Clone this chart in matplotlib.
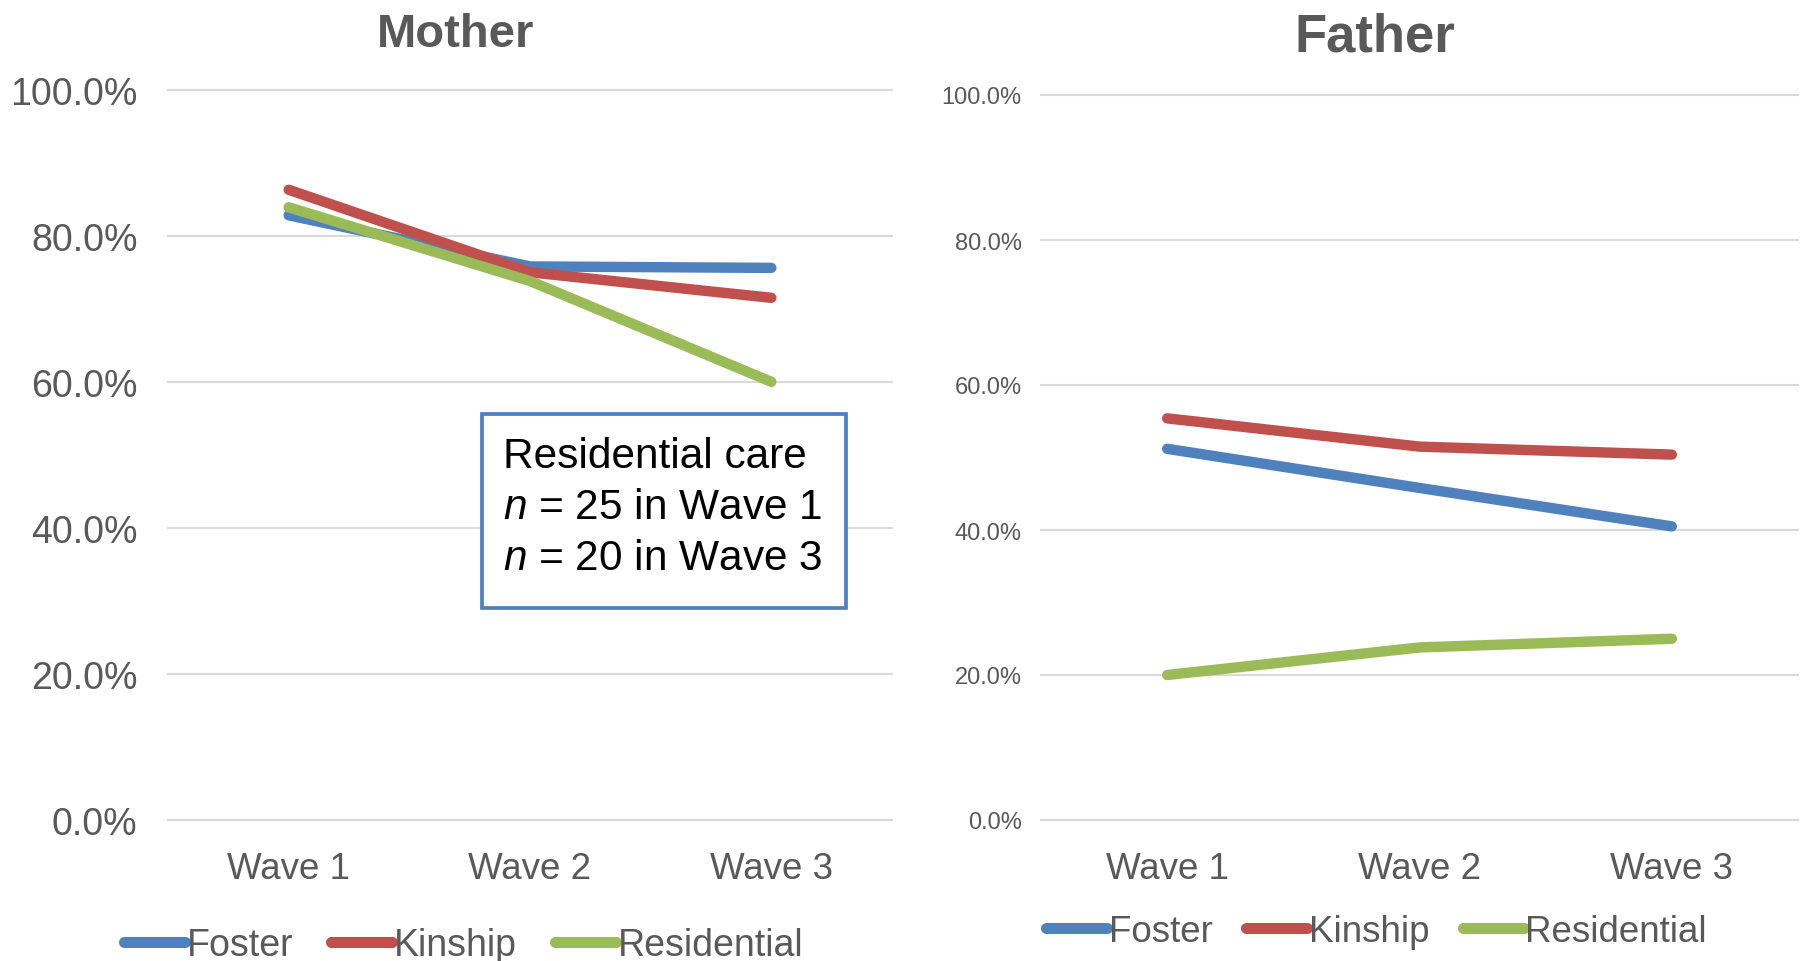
import matplotlib
matplotlib.use("Agg")
import matplotlib.pyplot as plt
from matplotlib.ticker import PercentFormatter
from matplotlib.lines import Line2D
from matplotlib.patches import Rectangle

plt.rcParams['font.family'] = ['Liberation Sans', 'DejaVu Sans']
plt.rcParams['mathtext.fontset'] = 'custom'
plt.rcParams['mathtext.it'] = 'Liberation Sans:italic'
plt.rcParams['mathtext.rm'] = 'Liberation Sans'

waves = ['Wave 1', 'Wave 2', 'Wave 3']
series_names = ['Foster', 'Kinship', 'Residential']
colors = ['#4F81BD', '#C0504D', '#9BBB59']

mother_foster = [0.828, 0.758, 0.756]
mother_kinship = [0.863, 0.750, 0.715]
mother_residential = [0.839, 0.738, 0.600]

father_foster = [0.512, 0.458, 0.405]
father_kinship = [0.554, 0.515, 0.504]
father_residential = [0.200, 0.238, 0.250]

yticks = [0.0, 0.2, 0.4, 0.6, 0.8, 1.0]

W, H = 1804, 962
fig = plt.figure(figsize=(W / 100, H / 100), dpi=100)
TXT = '#595959'
GRID = '#D9D9D9'


def fx(px):
    return px / W


def fy(py):
    return 1 - py / H


def setup(ax, ytick_size, ypad):
    ax.set_xlim(-0.5, 2.5)
    ax.set_ylim(0, 1)
    ax.set_yticks(yticks)
    ax.yaxis.set_major_formatter(PercentFormatter(1.0, decimals=1))
    ax.set_xticks(range(len(waves)))
    ax.set_xticklabels(waves)
    for s in ax.spines.values():
        s.set_visible(False)
    ax.tick_params(axis='y', length=0, labelsize=ytick_size, labelcolor=TXT, pad=ypad)
    ax.tick_params(axis='x', length=0, labelsize=26.5, labelcolor=TXT, pad=22)
    ax.grid(axis='y', color=GRID, linewidth=1.5)
    ax.grid(axis='x', visible=False)
    ax.set_axisbelow(True)
    for gl in ax.get_ygridlines():
        gl.set_clip_on(False)


x = range(len(waves))

# Left: Mother
axL = fig.add_axes([fx(168), fy(821), fx(892 - 168), (821 - 90.7) / H])
setup(axL, 27, 22)
for vals, c, name in zip([mother_foster, mother_kinship, mother_residential], colors, series_names):
    axL.plot(x, vals, color=c, linewidth=7.5, solid_capstyle='round', solid_joinstyle='round', label=name)

# Right: Father
axR = fig.add_axes([fx(1041), fy(821), fx(1798 - 1041), (821 - 96) / H])
setup(axR, 17, 14)
for vals, c, name in zip([father_foster, father_kinship, father_residential], colors, series_names):
    axR.plot(x, vals, color=c, linewidth=7.5, solid_capstyle='round', solid_joinstyle='round', label=name)

# Titles
fig.text(fx(456), fy(47), 'Mother', ha='center', va='baseline', fontsize=34, fontweight='bold', color=TXT)
fig.text(fx(1375), fy(52), 'Father', ha='center', va='baseline', fontsize=38, fontweight='bold', color=TXT)

# Legends
handles = [Line2D([0], [0], color=c, linewidth=8, solid_capstyle='round') for c in colors]
fig.legend(handles, series_names, loc='center left', bbox_to_anchor=(fx(124), fy(946)),
           ncol=3, frameon=False, fontsize=27, labelcolor=TXT, handlelength=1.63,
           handletextpad=0.05, columnspacing=1.0, borderpad=0, borderaxespad=0)
fig.legend(handles, series_names, loc='center left', bbox_to_anchor=(fx(1046), fy(932)),
           ncol=3, frameon=False, fontsize=26.5, labelcolor=TXT, handlelength=1.66,
           handletextpad=0.05, columnspacing=0.9, borderpad=0, borderaxespad=0)

# Annotation box
box = Rectangle((fx(482), fy(609)), fx(846 - 482), (609 - 415) / H, transform=fig.transFigure,
                facecolor='white', edgecolor='#4F81BD', linewidth=2.7, zorder=5)
fig.patches.append(box)
ann_lines = ['Residential care', '$n$ = 25 in Wave 1', '$n$ = 20 in Wave 3']
ann_base = [468, 519, 570]
for t, b in zip(ann_lines, ann_base):
    fig.text(fx(503), fy(b), t, ha='left', va='baseline', fontsize=30.5, color='black', zorder=6)

fig.savefig('out.png', dpi=100, facecolor='white')
